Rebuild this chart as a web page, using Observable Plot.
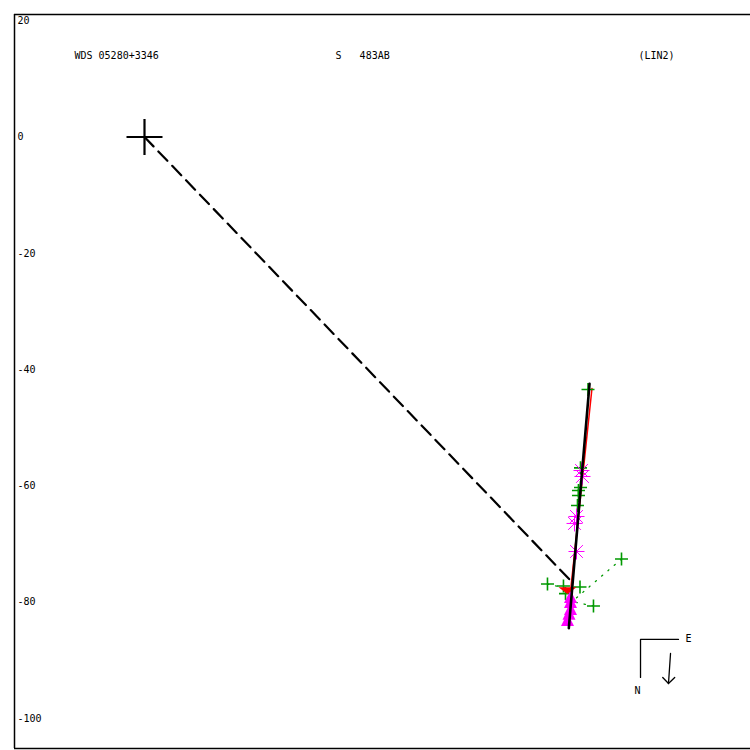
<!DOCTYPE html>
<html><head><meta charset="utf-8">
<script src="https://cdn.jsdelivr.net/npm/d3@7"></script>
<script src="https://cdn.jsdelivr.net/npm/@observablehq/plot@0.6"></script>
<style>body{margin:0;background:#fff} svg{display:block}</style>
</head><body><div id="chart"></div>
<script>
// ---- data (relative position, arcsec-like units) ----
const yTicks = [20, 0, -20, -40, -60, -80, -100];
const titleTexts = ["WDS 05280+3346", "S\u00a0\u00a0\u00a0483AB", "(LIN2)"];
const titleX = [-12.04, 32.85, 84.95];
const titleY = [14.02, 14.02, 14.02];
const primary = [[0, 0]];
const closestLine = [[0, 0], [73.14, -76.15]];
const fitLine = [[76.53, -42.44], [72.97, -84.47]];
const redLine = [[76.95, -43.25], [73.30, -77.8]];
const redMark = [[72.74, -77.99]];
const greenPlus = [
  [76.27, -43.42], [74.98, -56.90], [74.98, -60.27], [74.63, -60.79], [74.63, -61.65],
  [74.46, -63.37], [82.03, -72.57], [69.30, -76.87], [72.05, -77.21], [74.89, -77.38],
  [77.21, -80.65], [72.40, -78.52]
];
const greenOC = [
  [[82.03, -72.57], [74.29, -79.25]],
  [[69.30, -76.87], [72.57, -77.64]],
  [[77.21, -80.65], [73.60, -79.90]]
];
const magentaStar = [[75.15, -57.35], [75.32, -58.38], [74.29, -65.26], [73.95, -66.46], [74.29, -71.28]];
const magentaTri = [[73.26, -79.03], [73.26, -79.89], [73.26, -81.09], [73.0, -81.9], [72.74, -82.98]];
const compassLines = [
  [[91.83, -86.41], [85.30, -86.41], [85.30, -92.94]]
];
const compassArrow = [[90.46, -88.82], [90.11, -93.98]];
const compassHead = [[89.12, -92.95], [90.11, -93.98], [91.18, -92.95]];
const compassLabels = [{x: 93.55, y: -86.24, t: "E"}, {x: 84.78, y: -95.18, t: "N"}];

// ---- custom symbols ----
const plusSym = {draw(c, s) { const r = Math.sqrt(s / Math.PI); c.moveTo(-r, 0); c.lineTo(r, 0); c.moveTo(0, -r); c.lineTo(0, r); }};
const starSym = {draw(c, s) { const r = Math.sqrt(s / Math.PI); const d = r * 0.8;
  c.moveTo(-r, 0); c.lineTo(r, 0); c.moveTo(0, -r); c.lineTo(0, r);
  c.moveTo(-d, -d); c.lineTo(d, d); c.moveTo(-d, d); c.lineTo(d, -d); }};
const triUp = {draw(c, s) { const r = Math.sqrt(s / Math.PI); c.moveTo(0, -r); c.lineTo(r, r); c.lineTo(-r, r); c.closePath(); }};
const triDown = {draw(c, s) { const r = Math.sqrt(s / Math.PI); c.moveTo(-r, -r * 0.35); c.lineTo(r, -r * 0.35); c.lineTo(0, r * 0.4); c.closePath(); }};

const font = "'DejaVu Sans Mono', 'Liberation Mono', monospace";
const xDomain = [-130 / 5.815, 606 / 5.815];
const yDomain = [-611.5 / 5.815, 122.5 / 5.815];

const chart = Plot.plot({
  width: 750, height: 750,
  marginLeft: 14, marginTop: 14, marginRight: 0, marginBottom: 2,
  x: {domain: xDomain, axis: null},
  y: {domain: yDomain, axis: null},
  style: {fontFamily: font, fontSize: "10px", background: "#fff"},
  marks: [
    Plot.ruleX([xDomain[0]], {stroke: "black", strokeWidth: 1.5}),
    Plot.ruleY([yDomain[1], yDomain[0]], {stroke: "black", strokeWidth: 1.5}),
    Plot.text(yTicks, {y: d => d, text: d => String(d), frameAnchor: "left", textAnchor: "start", dx: 3, fill: "black"}),
    Plot.text(titleTexts, {x: (d, i) => titleX[i], y: (d, i) => titleY[i], text: d => d, textAnchor: "start", fill: "black"}),
    Plot.line(closestLine, {x: d => d[0], y: d => d[1], stroke: "black", strokeWidth: 2.2, strokeDasharray: "13,7"}),
    ...greenOC.map(seg => Plot.line(seg, {x: d => d[0], y: d => d[1], stroke: "#009900", strokeWidth: 1.3, strokeDasharray: "1.3,7"})),
    Plot.line(redLine, {x: d => d[0], y: d => d[1], stroke: "red", strokeWidth: 1.5}),
    Plot.dot(greenPlus, {x: d => d[0], y: d => d[1], symbol: plusSym, r: 6.5, stroke: "#009900", strokeWidth: 1.6, fill: "none"}),
    Plot.dot(magentaStar, {x: d => d[0], y: d => d[1], symbol: starSym, r: 8, stroke: "#ff00ff", strokeWidth: 1, fill: "none"}),
    Plot.dot(magentaTri, {x: d => d[0], y: d => d[1], symbol: triUp, r: 6.5, fill: "#ff00ff", stroke: "none"}),
    Plot.dot(redMark, {x: d => d[0], y: d => d[1], symbol: triDown, r: 9, fill: "red", stroke: "none"}),
    Plot.line(fitLine, {x: d => d[0], y: d => d[1], stroke: "black", strokeWidth: 2.6}),
    Plot.dot(primary, {x: d => d[0], y: d => d[1], symbol: plusSym, r: 18, stroke: "black", strokeWidth: 2.2, fill: "none"}),
    ...compassLines.map(seg => Plot.line(seg, {x: d => d[0], y: d => d[1], stroke: "black", strokeWidth: 1.3})),
    Plot.line(compassArrow, {x: d => d[0], y: d => d[1], stroke: "black", strokeWidth: 1.3}),
    Plot.line(compassHead, {x: d => d[0], y: d => d[1], stroke: "black", strokeWidth: 1.3}),
    Plot.text(compassLabels, {x: "x", y: "y", text: "t", textAnchor: "middle", fill: "black"})
  ]
});
document.getElementById("chart").appendChild(chart);
</script>
</body></html>
